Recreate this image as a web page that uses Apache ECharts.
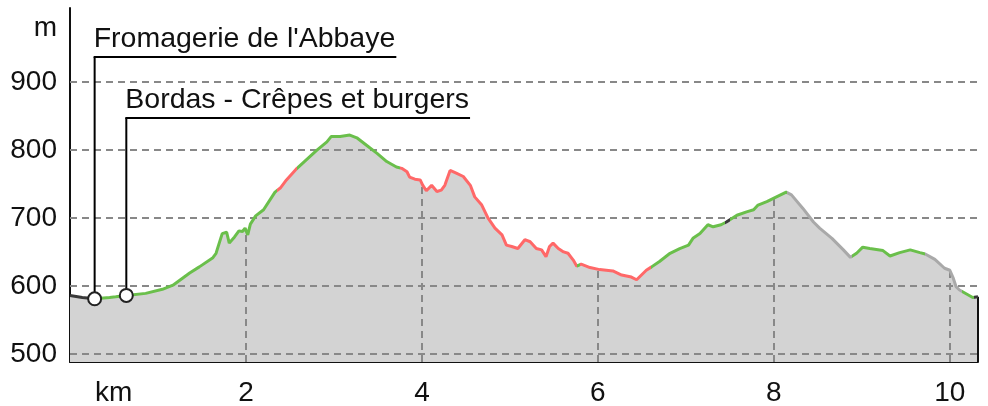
<!DOCTYPE html>
<html>
<head>
<meta charset="utf-8">
<script src="https://cdn.jsdelivr.net/npm/echarts@6/dist/echarts.min.js"></script>
<style>
html, body { margin: 0; padding: 0; background: #fff; }
#profile { width: 988px; height: 406px; }
</style>
</head>
<body>
<div id="profile"></div>
<script>
// distance (km) / elevation (m)
var distKm = [0.00, 0.14, 0.28, 0.45, 0.52, 0.64, 0.86, 1.05, 1.17, 1.36, 1.47, 1.62, 1.66, 1.73, 1.78, 1.81, 1.87, 1.92, 1.96, 1.99,
	2.02, 2.05, 2.11, 2.20, 2.33, 2.39, 2.46, 2.58, 2.80, 2.92, 2.97, 3.07, 3.18, 3.26, 3.37, 3.49, 3.60, 3.71, 3.77, 3.83,
	3.86, 3.92, 3.98, 4.01, 4.05, 4.11, 4.17, 4.22, 4.26, 4.32, 4.34, 4.39, 4.47, 4.55, 4.60, 4.68, 4.75, 4.83, 4.91, 4.96,
	5.02, 5.09, 5.17, 5.23, 5.30, 5.36, 5.41, 5.45, 5.49, 5.55, 5.61, 5.66, 5.72, 5.76, 5.81, 5.91, 6.02, 6.17, 6.27, 6.38,
	6.44, 6.55, 6.61, 6.70, 6.82, 6.93, 7.03, 7.08, 7.16, 7.25, 7.31, 7.40, 7.46, 7.58, 7.69, 7.77, 7.82, 7.92, 8.03, 8.14,
	8.20, 8.33, 8.45, 8.52, 8.66, 8.79, 8.87, 8.94, 9.01, 9.09, 9.24, 9.32, 9.43, 9.55, 9.66, 9.72, 9.83, 9.94, 10.00, 10.04,
	10.07, 10.11, 10.26, 10.32];
var elevM = [586, 583, 581, 583, 584, 586, 589, 595, 601, 619, 628, 641, 648, 677, 679, 663, 672, 681, 680, 685,
	675, 691, 703, 712, 738, 744, 756, 773, 799, 812, 820, 820, 822, 818, 807, 795, 783, 775, 773, 768,
	760, 757, 756, 748, 740, 748, 739, 741, 748, 770, 771, 766, 761, 748, 731, 719, 700, 685, 675, 660,
	658, 655, 668, 665, 655, 653, 643, 658, 663, 655, 650, 648, 638, 629, 632, 627, 624, 622, 616, 613,
	609, 623, 628, 636, 648, 655, 660, 670, 677, 690, 687, 690, 694, 704, 709, 712, 719, 724, 731, 738,
	734, 714, 694, 685, 670, 653, 642, 648, 657, 655, 652, 644, 649, 653, 649, 647, 639, 626, 623, 611,
	599, 594, 583, 584];

// slope colour segments [from km, to km, kind]
var segFrom = [0, 0.27, 2.35, 2.58, 3.75, 5.76, 5.80, 6.60, 7.45, 7.50, 8.15, 8.89, 9.72, 10.14, 10.28];
var segTo = [0.27, 2.35, 2.58, 3.75, 5.76, 5.80, 6.60, 7.45, 7.50, 8.15, 8.89, 9.72, 10.14, 10.28, 10.4];
var segKind = ['dark', 'green', 'red', 'green', 'red', 'green', 'red', 'green', 'dark', 'green', 'grey', 'green', 'grey', 'green', 'dark'];

// points of interest
var poiKm = [0.28, 0.64];
var poiElev = [581, 586];
var poiNames = ["Fromagerie de l'Abbaye", "Bordas - Crêpes et burgers"];

var yTicks = [500, 600, 700, 800, 900];
var xTicks = [2, 4, 6, 8, 10];

var yMin = 488, yMax = 1009;
var kindColor = { dark: '#3a3a3a', green: '#6abf4b', red: '#ff6868', grey: '#a9a9a9' };
var fontFam = '"Liberation Sans", Arial, sans-serif';
var tickFont = 28;

function elevAt(k) {
	for (var i = 1; i < distKm.length; i++) {
		if (distKm[i] >= k) {
			var t = (k - distKm[i - 1]) / (distKm[i] - distKm[i - 1]);
			return elevM[i - 1] + t * (elevM[i] - elevM[i - 1]);
		}
	}
	return elevM[elevM.length - 1];
}

var measureCtx = document.createElement('canvas').getContext('2d');
function textWidth(str, font) {
	measureCtx.font = font;
	return measureCtx.measureText(str).width;
}

var profileData = distKm.map(function (k, i) { return [k, elevM[i]]; });
var poiData = poiKm.map(function (k, i) { return [k, poiElev[i], i]; });
var lastKm = distKm[distKm.length - 1];

var gridLines = yTicks.map(function (v) { return { yAxis: v }; });
xTicks.forEach(function (k) {
	gridLines.push([{ coord: [k, yMin] }, { coord: [k, elevAt(k)] }]);
});

var labelTops = [57, 118];
var poiFont = '28.5px ' + fontFam;

var chart = echarts.init(document.getElementById('profile'));
var option = {
	animation: false,
	grid: { left: 70, right: 10, top: 8, bottom: 44, outerBoundsMode: 'none' },
	visualMap: {
		show: false,
		type: 'piecewise',
		seriesIndex: 1,
		dimension: 0,
		pieces: segFrom.map(function (f, i) {
			return { gte: f, lt: segTo[i], color: kindColor[segKind[i]] };
		})
	},
	graphic: [{
		type: 'text',
		left: 95,
		top: 379,
		style: { text: 'km', font: tickFont + 'px ' + fontFam, fill: '#111' }
	}, {
		type: 'text',
		right: 931,
		top: 14,
		style: { text: 'm', font: tickFont + 'px ' + fontFam, fill: '#111', align: 'right' }
	}],
	xAxis: {
		type: 'value',
		min: 0,
		max: lastKm,
		axisLine: { lineStyle: { color: '#111', width: 2 } },
		axisTick: { show: false },
		splitLine: { show: false },
		axisLabel: { customValues: xTicks, fontSize: tickFont, fontFamily: fontFam, color: '#111', margin: 17 }
	},
	yAxis: {
		type: 'value',
		min: yMin,
		max: yMax,
		axisLine: { show: true, lineStyle: { color: '#111', width: 2 } },
		axisTick: { show: false },
		splitLine: { show: false },
		axisLabel: { customValues: yTicks, fontSize: tickFont, fontFamily: fontFam, color: '#111', margin: 13 }
	},
	series: [{
		type: 'line',
		z: 1,
		data: profileData,
		showSymbol: false,
		lineStyle: { width: 0 },
		areaStyle: { color: '#d3d3d3', opacity: 1 },
		markLine: {
			z: 2,
			silent: true,
			symbol: 'none',
			label: { show: false },
			lineStyle: { color: '#888', width: 2, type: [7, 5] },
			data: gridLines.concat([[
				{ coord: [lastKm, yMin], lineStyle: { color: '#111', type: 'solid', width: 2 } },
				{ coord: [lastKm, elevM[elevM.length - 1]] }
			]])
		}
	}, {
		type: 'line',
		z: 3,
		data: profileData,
		showSymbol: false,
		lineStyle: { width: 3 }
	}, {
		type: 'custom',
		z: 4,
		data: poiData,
		renderItem: function (params, api) {
			var i = api.value(2);
			var p = api.coord([api.value(0), api.value(1)]);
			var topY = labelTops[i];
			var w = textWidth(poiNames[i], poiFont);
			return {
				type: 'group',
				children: [{
					type: 'line',
					shape: { x1: p[0], y1: topY, x2: p[0], y2: p[1] },
					style: { stroke: '#000', lineWidth: 2 }
				}, {
					type: 'line',
					shape: { x1: p[0] - 1, y1: topY, x2: p[0] + w, y2: topY },
					style: { stroke: '#000', lineWidth: 2 }
				}, {
					type: 'text',
					style: { text: poiNames[i], x: p[0] - 1, y: topY - 3, font: poiFont, fill: '#111', verticalAlign: 'bottom' }
				}, {
					type: 'circle',
					shape: { cx: p[0], cy: p[1], r: 6.5 },
					style: { fill: '#fff', stroke: '#222', lineWidth: 2 }
				}]
			};
		}
	}]
};
chart.setOption(option);
</script>
</body>
</html>
